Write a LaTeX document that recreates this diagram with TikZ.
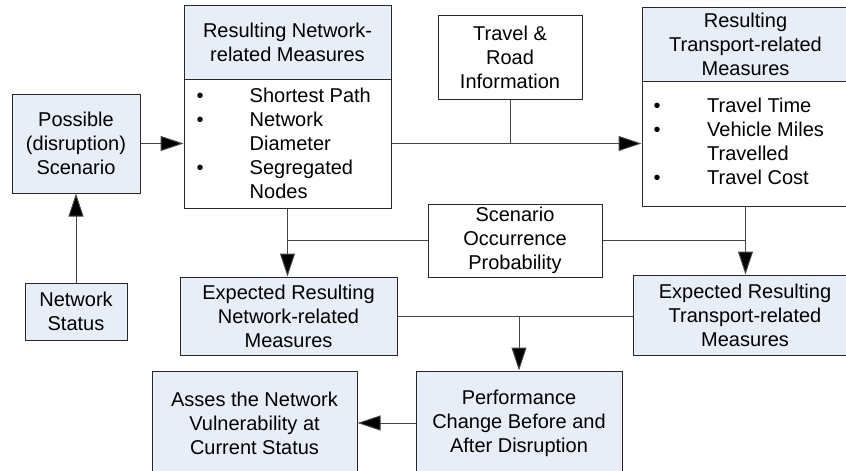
\documentclass[tikz,border=0pt]{standalone}
\usepackage{fontspec}
\setmainfont{Liberation Sans}
\usetikzlibrary{arrows.meta}

\definecolor{boxfill}{RGB}{232,238,247}
\definecolor{edgec}{RGB}{40,40,40}
\definecolor{linec}{RGB}{70,70,70}

\tikzset{
  base/.style={draw=edgec, line width=1pt, inner sep=0pt, align=center,
    font=\fontsize{20pt}{24pt}\selectfont},
  bluebox/.style={base, fill=boxfill},
  whitebox/.style={base, fill=white},
  listtext/.style={inner sep=0pt, anchor=north west,
    font=\fontsize{20pt}{24pt}\selectfont},
  link/.style={draw=linec, line width=1pt},
  arr/.style={link, -{Triangle[length=23pt,width=15pt,fill=black]}}
}

\begin{document}
\begin{tikzpicture}[x=1pt, y=-1pt]
\useasboundingbox (0,0) rectangle (846,471);
\clip (0,0) rectangle (846,471);

% left column
\node[bluebox, minimum width=128pt, minimum height=99pt] (scen) at (76,143.5)
  {Possible\\(disruption)\\Scenario};
\node[bluebox, minimum width=102pt, minimum height=57pt] (nstat) at (76,311.5)
  {Network\\Status};

% network-related measures
\node[bluebox, minimum width=207pt, minimum height=74pt] (nethead) at (287.5,42)
  {Resulting Network-\\related Measures};
\node[whitebox, minimum width=207pt, minimum height=129pt] (netbody) at (287.5,143.5) {};
\node[listtext] (netlist) at (196.5,85.2) {%
  \begin{tabular}{@{}p{53pt}@{}l@{}}
  \textbullet & Shortest Path\\
  \textbullet & Network\\
              & Diameter\\
  \textbullet & Segregated\\
              & Nodes
  \end{tabular}};

% travel information
\node[whitebox, minimum width=144pt, minimum height=84pt] (travel) at (510,57)
  {Travel \&\\Road\\Information};

% transport-related measures
\node[bluebox, minimum width=207pt, minimum height=74pt] (trhead) at (745.5,44)
  {Resulting\\Transport-related\\Measures};
\node[whitebox, minimum width=207pt, minimum height=125pt] (trbody) at (745.5,143.5) {};
\node[listtext] (trlist) at (653.5,95.2) {%
  \begin{tabular}{@{}p{53.5pt}@{}l@{}}
  \textbullet & Travel Time\\
  \textbullet & Vehicle Miles\\
              & Travelled\\
  \textbullet & Travel Cost
  \end{tabular}};

% probability
\node[whitebox, minimum width=174pt, minimum height=73pt] (occ) at (515,240.5)
  {Scenario\\Occurrence\\Probability};

% expected measures
\node[bluebox, minimum width=217pt, minimum height=78pt] (expnet) at (288.5,316)
  {Expected Resulting\\Network-related\\Measures};
\node[bluebox, minimum width=224pt, minimum height=80pt] (exptr) at (745,315)
  {Expected Resulting\\Transport-related\\Measures};

% bottom row
\node[bluebox, minimum width=206pt, minimum height=104pt] (perf) at (519,423)
  {Performance\\Change Before and\\After Disruption};
\node[bluebox, minimum width=205pt, minimum height=104pt] (asses) at (254.5,423)
  {Asses the Network\\Vulnerability at\\Current Status};

% connectors
\draw[arr] (scen.east) -- (scen.east -| netbody.west);
\draw[arr] (nstat.north) -- (scen.south);
\draw[arr] (netbody.east) -- (trbody.west);
\draw[link] (travel.south) -- (travel.south |- netbody.east);
\draw[arr] (netbody.south) -- (netbody.south |- expnet.north);
\draw[link] (occ.west) -- (occ.west -| netbody.south);
\draw[link] (occ.east) -- (occ.east -| trbody.south);
\draw[arr] (trbody.south) -- (trbody.south |- exptr.north);
\draw[link] (expnet.east) -- (expnet.east -| exptr.west);
\draw[arr] (expnet.east -| perf.north) -- (perf.north);
\draw[arr] (perf.west) -- (perf.west -| asses.east);
\end{tikzpicture}
\end{document}
